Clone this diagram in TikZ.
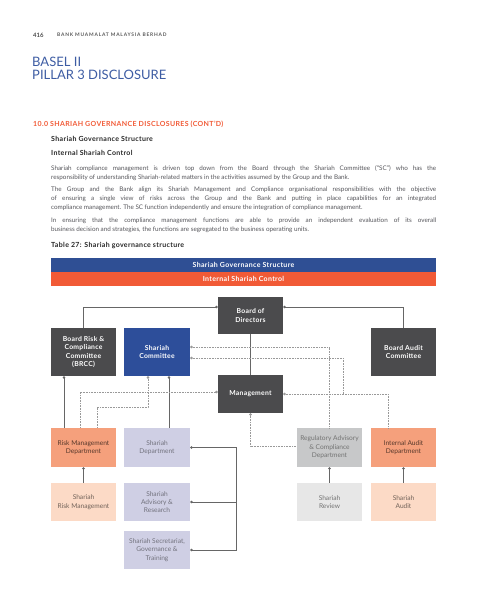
\documentclass[tikz,border=0pt]{standalone}
\usepackage{fontspec}
\setmainfont{Lato}
\usetikzlibrary{positioning,arrows.meta,calc}
\definecolor{darkgrey}{HTML}{4B4B4D}
\definecolor{scblue}{HTML}{2D4E9A}
\definecolor{barblue}{HTML}{2F4F94}
\definecolor{barorange}{HTML}{F15A36}
\definecolor{salmon}{HTML}{F5A07C}
\definecolor{peach}{HTML}{FCDAC6}
\definecolor{lavender}{HTML}{CFCFE4}
\definecolor{midgrey}{HTML}{C7C8C9}
\definecolor{palegrey}{HTML}{E7E7E7}
\definecolor{titleblue}{HTML}{3D5CA3}
\definecolor{bodygrey}{HTML}{55555A}
\tikzset{box/.style={rectangle,minimum width=65pt,minimum height=38pt,inner sep=1pt,
    align=center,font=\fontsize{6.6}{8.4}\selectfont},
  darkbox/.style={box,fill=darkgrey,text=white,
    font=\fontsize{6.8}{8.4}\selectfont\bfseries\addfontfeature{LetterSpace=4}},
  bluebox/.style={darkbox,fill=scblue},
  salmonbox/.style={box,fill=salmon,text=black!65!salmon},
  peachbox/.style={box,fill=peach,text=black!55!peach},
  lavbox/.style={box,fill=lavender,text=black!45!lavender},
  greybox/.style={box,fill=midgrey,text=black!55},
  paleboxx/.style={box,fill=palegrey,text=black!55},
  link/.style={draw=black!60,line width=0.7pt},
  dlink/.style={draw=black!40,line width=0.5pt,dash pattern=on 0.8pt off 0.8pt},
  dot/.tip={Circle[length=2.6pt]},
  head/.style={anchor=west,inner sep=0,text=black!85,
    font=\fontsize{7}{8}\selectfont\bfseries\addfontfeature{LetterSpace=5}}}
\begin{document}
\begin{tikzpicture}[x=1pt,y=-1pt]
\useasboundingbox (0,0) rectangle (480,611);
% page head
\node[anchor=west,inner sep=0,font=\fontsize{6}{7}\selectfont\bfseries,text=black!70] (pg) at (33,35) {416};
\node[anchor=west,inner sep=0,font=\fontsize{4.9}{6}\selectfont\bfseries\addfontfeature{LetterSpace=16},text=black!65] (bank) at (57,35) {BANK MUAMALAT MALAYSIA BERHAD};
\node[anchor=north west,inner sep=0,align=left,text=titleblue,font=\fontsize{13}{12.5}\selectfont] (title) at (32,57) {BASEL II\\PILLAR 3 DISCLOSURE};
% text
\node[head,text=barorange] (sec) at (33,124) {10.0 SHARIAH GOVERNANCE DISCLOSURES (CONT'D)};
\node[head] (h1) at (51,139) {Shariah Governance Structure};
\node[head] (h2) at (51,153) {Internal Shariah Control};
\tikzset{para/.style={anchor=north west,inner sep=0,text width=385pt,align=justify,text=bodygrey,
    font=\fontsize{6.3}{9}\selectfont}}
\node[para] (p1) at (51,165) {Shariah compliance management is driven top down from the Board through the Shariah Committee (“SC”) who has the\linebreak responsibility of understanding Shariah-related matters in the activities assumed by the Group and the Bank.};
\node[para] (p2) at (51,187) {The Group and the Bank align its Shariah Management and Compliance organisational responsibilities with the objective\linebreak of ensuring a single view of risks across the Group and the Bank and putting in place capabilities for an integrated\linebreak compliance management. The SC function independently and ensure the integration of compliance management.};
\node[para] (p3) at (51,218) {In ensuring that the compliance management functions are able to provide an independent evaluation of its overall\linebreak business decision and strategies, the functions are segregated to the business operating units.};
\node[head] (cap) at (51,246) {Table 27: Shariah governance structure};
% bars
\fill[barblue] (51,258) rectangle (436,272);
\fill[barorange] (51,272) rectangle (436,286);
\node[head,anchor=center,text=white] (bar1) at (243.5,265) {Shariah Governance Structure};
\node[head,anchor=center,text=white] (bar2) at (243.5,279) {Internal Shariah Control};
% boxes
\node[darkbox,minimum height=37pt] (brd) at (250.5,315.5) {Board of\\Directors};
\node[darkbox,minimum height=48pt] (brcc) at (83.5,352) {Board Risk \&\\Compliance\\Committee\\(BRCC)};
\node[bluebox,minimum width=66pt,minimum height=48pt] (sc) at (157,352) {Shariah\\Committee};
\node[darkbox,minimum height=48pt] (bac) at (403.5,352) {Board Audit\\Committee};
\node[darkbox] (mgmt) at (250.5,394) {Management};
\node[salmonbox,minimum height=39pt] (rmd) at (83.5,447.5) {Risk Management\\Department};
\node[lavbox,minimum width=66pt,minimum height=39pt] (sd) at (157,447.5) {Shariah\\Department};
\node[greybox,minimum height=39pt] (rac) at (329.5,447.5) {Regulatory Advisory\\\& Compliance\\Department};
\node[salmonbox,minimum height=39pt] (iad) at (403.5,447.5) {Internal Audit\\Department};
\node[peachbox] (srm) at (83.5,502) {Shariah\\Risk Management};
\node[lavbox,minimum width=66pt] (sar) at (157,502) {Shariah\\Advisory \&\\Research};
\node[paleboxx] (srv) at (329.5,502) {Shariah\\Review};
\node[peachbox] (sau) at (403.5,502) {Shariah\\Audit};
\node[lavbox,minimum width=66pt] (sst) at (157,550) {Shariah Secretariat,\\Governance \&\\Training};
% board links
\draw[link,-dot] (brcc.north) |- ([yshift=8.5pt]brd.west);
\draw[link,-dot] (bac.north) |- ([yshift=8.5pt]brd.east);
\draw[link] (brd.south) -- (mgmt.north);
% shariah committee links
\coordinate (j1) at (343,394);
\draw[dlink,dot-] ([yshift=5pt]sc.east) -| (rac.north);
\draw[dlink,dot-] ([yshift=-6pt]sc.east) -| (j1);
\draw[dlink,dot-] (mgmt.east) -| ([xshift=-15.5pt]iad.north);
\draw[dlink,dot-] (mgmt.south) |- ([yshift=1.5pt]rac.west);
\draw[link,dot-] ([xshift=12pt]sc.south) -- ([xshift=12pt]sd.north);
% risk management links
\draw[link,-dot] ([xshift=-19.5pt]rmd.north) -- ([xshift=-19.5pt]brcc.south);
\draw[dlink,-dot] ([xshift=-3.5pt]rmd.north) |- ([yshift=2pt]mgmt.west);
\draw[dlink,-dot] ([xshift=13.5pt]rmd.north) -- ++(0,-21) -| ([xshift=-9pt]sc.south);
% second row
\draw[link,-dot] (srm.north) -- (rmd.south);
\draw[link,-dot] (srv.north) -- (rac.south);
\draw[link,-dot] (sau.north) -- (iad.south);
% shariah department bracket
\coordinate (bus) at (236,502);
\draw[link,dot-] (sd.east) -| (bus);
\draw[link,dot-] (sar.east) -- (bus);
\draw[link,-dot] (bus) |- (sst.east);
\end{tikzpicture}
\end{document}
